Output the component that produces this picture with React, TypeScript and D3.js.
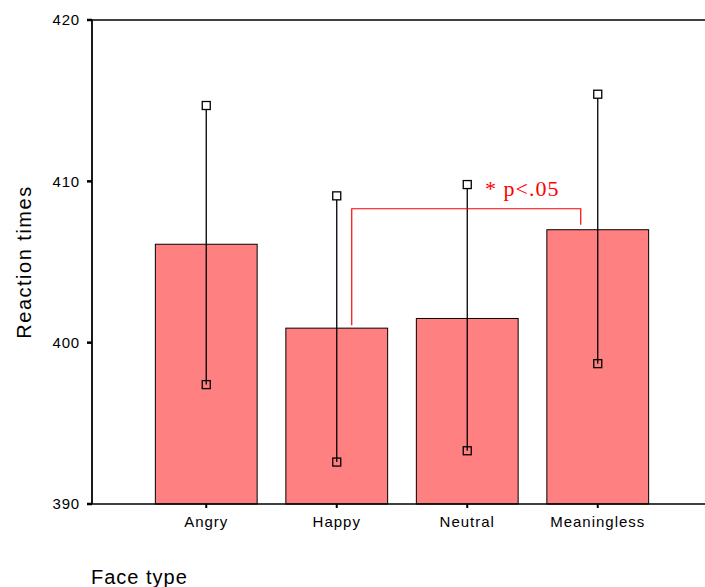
import React from "react";
import * as d3 from "d3";

const categories = ["Angry", "Happy", "Neutral", "Meaningless"];
const means = [406.1, 400.9, 401.5, 407.0];
const upper = [414.7, 409.1, 409.8, 415.4];
const lower = [397.4, 392.6, 393.3, 398.7];
const yTicks = [390, 400, 410, 420];
const bracketLevel = 408.3;
const sigLabel = "* p<.05";

const W = 705;
const H = 587;
const axisX = 92;
const sans = "'Liberation Sans', Arial, sans-serif";

export default function App() {
  const y = d3.scaleLinear().domain([390, 420]).range([504, 20]);
  const x = d3.scaleBand().domain(categories).range([141, 663]).paddingInner(0.22).paddingOuter(0.11);
  const bw = x.bandwidth();
  const cx = (c: string) => (x(c) as number) + bw / 2;

  const hx = cx("Happy") + 15;
  const mx = cx("Meaningless") - 17;
  const by = y(bracketLevel);

  return (
    <svg width={W} height={H} style={{ position: "absolute", left: 0, top: 0 }}>
      <rect width={W} height={H} fill="#fff" />
      {categories.map((c, i) => (
        <rect key={c} x={x(c)} y={y(means[i])} width={bw} height={y(390) - y(means[i])}
          fill="#ff8080" stroke="#000" strokeWidth={1} />
      ))}
      {categories.map((c, i) => (
        <g key={c + "e"} stroke="#000" fill="none" strokeWidth={1.3}>
          <line x1={cx(c)} x2={cx(c)} y1={y(upper[i])} y2={y(lower[i])} />
          <rect x={cx(c) - 4} y={y(upper[i]) - 4} width={8} height={8} fill="#fff" />
          <rect x={cx(c) - 4} y={y(lower[i]) - 4} width={8} height={8} fill="none" />
        </g>
      ))}
      {/* significance bracket */}
      <path d={`M${hx},${y(means[1]) - 3}V${by}H${mx}V${y(means[3]) - 5}`} stroke="#ff0000" fill="none" strokeWidth={1.2} />
      <text x={485} y={196} fill="#ff0000" fontFamily="'Liberation Serif', serif" fontSize={22} letterSpacing={1}>{sigLabel}</text>
      {/* axes */}
      <line x1={axisX} x2={W} y1={y(420)} y2={y(420)} stroke="#000" strokeWidth={1.5} />
      <line x1={axisX} x2={W} y1={y(390)} y2={y(390)} stroke="#000" strokeWidth={1.5} />
      <line x1={axisX} x2={axisX} y1={y(420)} y2={y(390)} stroke="#000" strokeWidth={1.8} />
      {yTicks.map((t) => (
        <g key={t}>
          <line x1={axisX - 5} x2={axisX} y1={y(t)} y2={y(t)} stroke="#000" strokeWidth={2.5} />
          <text x={80} y={y(t)} dy="0.35em" textAnchor="end" fontFamily={sans} fontSize={15} letterSpacing={0.8}>{t}</text>
        </g>
      ))}
      {categories.map((c) => (
        <g key={c + "t"}>
          <line x1={cx(c)} x2={cx(c)} y1={504} y2={508} stroke="#000" strokeWidth={2} />
          <text x={cx(c)} y={527} textAnchor="middle" fontFamily={sans} fontSize={15} letterSpacing={1}>{c}</text>
        </g>
      ))}
      <text transform={`translate(31,262) rotate(-90)`} textAnchor="middle" fontFamily={sans} fontSize={20} letterSpacing={1.5}>Reaction times</text>
      <text x={91} y={584} fontFamily={sans} fontSize={20} letterSpacing={1}>Face type</text>
    </svg>
  );
}
